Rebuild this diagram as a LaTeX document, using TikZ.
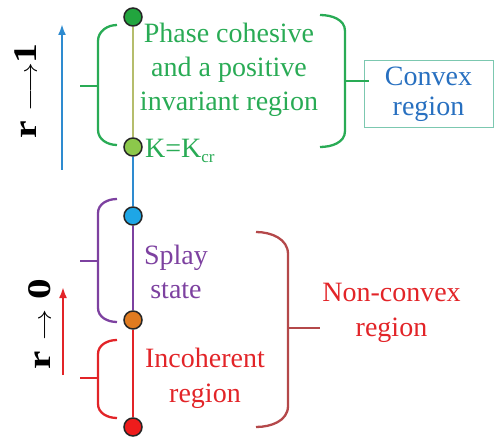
\documentclass[tikz,border=0pt]{standalone}
\usepackage{fontspec}
\setmainfont{Liberation Serif}
\usetikzlibrary{arrows.meta}

\definecolor{txtgreen}{RGB}{41,171,85}
\definecolor{dotdkgreen}{RGB}{34,165,62}
\definecolor{dotltgreen}{RGB}{140,200,75}
\definecolor{dotblue}{RGB}{30,166,230}
\definecolor{dotorange}{RGB}{224,123,32}
\definecolor{dotred}{RGB}{238,28,28}
\definecolor{olive}{RGB}{181,189,108}
\definecolor{linblue}{RGB}{46,139,208}
\definecolor{purp}{RGB}{125,65,160}
\definecolor{txtblue}{RGB}{40,112,192}
\definecolor{boxteal}{RGB}{124,200,176}
\definecolor{txtred}{RGB}{226,36,40}
\definecolor{brown}{RGB}{180,72,74}

\begin{document}
\begin{tikzpicture}[x=1pt,y=-1pt,
  dot/.style={circle, draw=black!85, line width=1.5pt, minimum size=18pt, inner sep=0pt},
  lbl/.style={font=\fontsize{28}{34}\selectfont, align=center, inner sep=0pt},
  brace/.style={line width=2.3pt},
  axis/.style={line width=2.5pt, -{Latex[length=11pt,width=8pt]}},
  rlabel/.style={font=\fontsize{33}{33}\selectfont\bfseries, rotate=90, inner sep=0pt}]
\useasboundingbox (0,0) rectangle (495,438);

% points along the parameter axis
\node[dot, fill=dotdkgreen] (n1) at (133,17)  {};
\node[dot, fill=dotltgreen] (n2) at (133,147) {};
\node[dot, fill=dotblue]    (n3) at (133,216) {};
\node[dot, fill=dotorange]  (n4) at (133,320) {};
\node[dot, fill=dotred]     (n5) at (133,427) {};

\draw[olive,  line width=1.5pt] (n1) -- (n2);
\draw[linblue,line width=1.5pt] (n2) -- (n3);
\draw[purp,   line width=1.5pt] (n3) -- (n4);
\draw[txtred, line width=1.5pt] (n4) -- (n5);

% left braces
\draw[brace, txtgreen] (117,25) to[out=180,in=90] (98,41) -- (98,130) to[out=-90,in=180] (117,145);
\draw[brace, txtgreen] (80,86) -- (98,86);
\draw[brace, purp] (117,199) to[out=180,in=90] (98,213) -- (98,308) to[out=-90,in=180] (117,322);
\draw[brace, purp] (80,261) -- (98,261);
\draw[brace, txtred] (117,340) to[out=180,in=90] (98,354) -- (98,404) to[out=-90,in=180] (117,418);
\draw[brace, txtred] (80,378) -- (98,378);

% right braces
\draw[brace, txtgreen] (320,15) to[out=0,in=90] (345,31) -- (345,131) to[out=-90,in=0] (320,147);
\draw[brace, brown] (256,232) to[out=0,in=90] (288,254) -- (288,406) to[out=-90,in=0] (256,427);
\draw[brace, brown] (288,328) -- (320,328);

% region labels
\node[lbl, text=txtgreen] (coh) at (229,69.5) {Phase cohesive\\and a positive\\invariant region};
\node[lbl, text=txtgreen, anchor=base west] (kcr) at (145,158)
  {K=K\raisebox{-0.35ex}{\fontsize{17}{17}\selectfont cr}};
\node[lbl, text=purp] (splay) at (176,272) {Splay\\state};
\node[lbl, text=txtred, font=\fontsize{28}{35}\selectfont] (incoh) at (205,378) {Incoherent\\region};
\node[lbl, text=txtred, font=\fontsize{28}{35}\selectfont] (ncvx) at (391.5,313) {Non-convex\\region};
\node[lbl, text=txtblue, font=\fontsize{28}{30}\selectfont, draw=boxteal, line width=0.8pt,
      minimum width=129pt, minimum height=67pt] (cvx) at (428.5,94) {Convex\\region};

\coordinate (gtip) at (cvx.west |- 0,81);
\draw[brace, txtgreen] (345,81) -- ([xshift=5pt]gtip);

% direction arrows and their labels
\coordinate (bl0) at (62,170);
\coordinate (bl1) at (62,24);
\draw[axis, linblue] (bl0) -- (bl1);
\coordinate (rd0) at (63,375);
\coordinate (rd1) at (63,287);
\draw[axis, txtred] (rd0) -- (rd1);

\node[rlabel] (rone) at (26,91) {\scalebox{1.2}[1]{r $\longrightarrow$1}};
\node[rlabel] (rzero) at (40,324) {\scalebox{1.25}[1]{r $\rightarrow$ 0}};
\end{tikzpicture}
\end{document}
